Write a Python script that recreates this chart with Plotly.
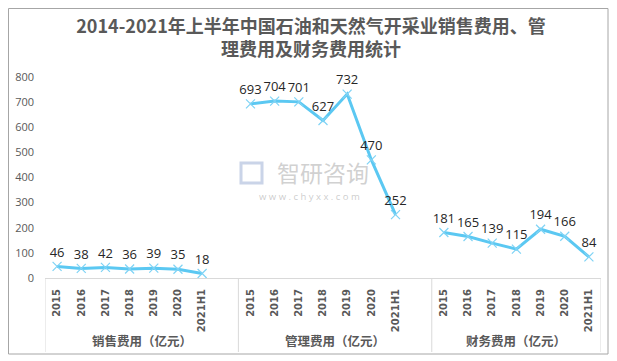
import plotly.graph_objects as go

groups = ["销售费用（亿元）", "管理费用（亿元）", "财务费用（亿元）"]
years = ["2015", "2016", "2017", "2018", "2019", "2020", "2021H1"]
sales = [46, 38, 42, 36, 39, 35, 18]
admin = [693, 704, 701, 627, 732, 470, 252]
finance = [181, 165, 139, 115, 194, 166, 84]
series = [sales, admin, finance]
y_ticks = [0, 100, 200, 300, 400, 500, 600, 700, 800]

# page body has an 8px default margin, so the figure is drawn offset by 8px
OFF = 8
W, H = 617 - OFF, 361 - OFF
L, R, T = 45 - OFF, W - (601 - OFF), 77 - OFF
B = H - (278 - OFF)
ph = H - T - B

def py(y_ref):
    return (H - B - (y_ref - OFF)) / ph

def px(x_ref):
    return ((x_ref - OFF) - L) / (W - L - R)

LINE = "#5BC8F2"
MARK = "#7FD3F5"
GREY = "#595959"
FONT = "Open Sans, Noto Sans CJK SC, sans-serif"

fig = go.Figure()
tickvals, ticktext = [], []
slot = 8
for g, vals in enumerate(series):
    xs = [g * slot + i for i in range(len(years))]
    tickvals += xs
    ticktext += years
    fig.add_trace(go.Scatter(
        x=xs, y=vals, mode="lines+markers+text",
        line=dict(color=LINE, width=3),
        marker=dict(symbol="x-thin", size=9, line=dict(color=MARK, width=1.2), color=MARK),
        text=[str(v) for v in vals], textposition="top center",
        textfont=dict(size=13, color="#262626", family=FONT),
        cliponaxis=False, showlegend=False, hoverinfo="skip",
    ))

n_slots = 3 * slot - 1
fig.update_xaxes(
    range=[-0.5, n_slots - 0.5], tickvals=tickvals, ticktext=ticktext,
    tickangle=-90, ticks="", showgrid=False, zeroline=False,
    showline=True, linecolor="#D9D9D9", linewidth=1, automargin=False,
    tickfont=dict(size=10, color=GREY, family="DejaVu Sans, sans-serif", weight="bold"),
    ticklabelstandoff=6,
)
fig.update_yaxes(
    range=[0, 800], tickvals=y_ticks, showgrid=False, zeroline=False,
    showline=False, ticks="", automargin=False,
    tickfont=dict(size=11, color=GREY, family=FONT),
    ticklabelstandoff=10,
)

shapes = []
div_y1 = py(352)
for b in [-0.5, slot - 0.5, 2 * slot - 0.5, n_slots - 0.5]:
    shapes.append(dict(type="line", xref="x", yref="paper", x0=b, x1=b,
                       y0=0, y1=div_y1, line=dict(color="#D9D9D9", width=1)))
shapes.append(dict(type="rect", xref="paper", yref="paper",
                   x0=px(8.5), x1=px(608), y0=py(354), y1=py(8.5),
                   line=dict(color="#A6A6A6", width=1)))
# watermark logo outline
shapes.append(dict(type="rect", xref="paper", yref="paper",
                   x0=px(241), x1=px(262), y0=py(183), y1=py(163),
                   line=dict(color="rgba(150,170,210,0.5)", width=3)))

annotations = []
centers = [(slot - 1) / 2, slot + (slot - 1) / 2, 2 * slot + (slot - 2) / 2]
for c, name in zip(centers, groups):
    annotations.append(dict(x=c, y=py(340), xref="x", yref="paper", text=name,
                            xanchor="center", yanchor="middle",
                            showarrow=False, font=dict(size=12.5, color=GREY, family="Noto Sans CJK SC", weight="bold")))
# watermark
annotations.append(dict(x=px(323), y=py(172), xref="paper", yref="paper", text="智研咨询",
                        xanchor="center", yanchor="middle",
                        showarrow=False, font=dict(size=23, color="rgba(170,170,170,0.55)", family="Noto Sans CJK SC")))
annotations.append(dict(x=px(309), y=py(196), xref="paper", yref="paper",
                        text="w w w . c h y x x . c o m",
                        xanchor="center", yanchor="middle",
                        showarrow=False, font=dict(size=9.5, color="rgba(170,170,170,0.6)", family=FONT)))

fig.update_layout(
    width=W, height=H, margin=dict(l=L, r=R, t=T, b=B, autoexpand=False),
    paper_bgcolor="white", plot_bgcolor="white",
    title=dict(text="<b>2014-2021年上半年中国石油和天然气开采业销售费用、管<br>理费用及财务费用统计</b>",
               x=px(311), xref="paper", xanchor="center", y=1 - (33 - OFF) / H, yanchor="middle",
               font=dict(size=18, color=GREY, family="Noto Sans CJK SC")),
    shapes=shapes, annotations=annotations,
)

fig.write_html("out.html")
